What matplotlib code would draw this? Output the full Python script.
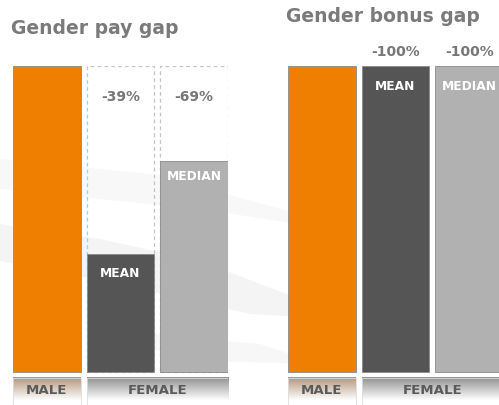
import numpy as np
import matplotlib
matplotlib.use("Agg")
import matplotlib.pyplot as plt
from matplotlib.patches import Polygon

# ---- data ----
pay_categories = ["MALE", "MEAN", "MEDIAN"]
pay_heights = [1.0, 0.385, 0.69]
pay_labels = ["-39%", "-69%"]
bonus_categories = ["MALE", "MEAN", "MEDIAN"]
bonus_heights = [1.0, 1.0, 1.0]
bonus_labels = ["-100%", "-100%"]
group_labels = ["MALE", "FEMALE"]
titles = ["Gender pay gap", "Gender bonus gap"]

ORANGE = "#EF7F00"
DARK = "#555555"
LIGHT = "#B1B1B1"
TITLE_C = "#7A7A7A"
FONT = "DejaVu Sans"

W, H = 499, 406
fig = plt.figure(figsize=(W / 100, H / 100), dpi=100)

# background swoosh (very subtle)
bg = fig.add_axes([0, 0, 1, 1], zorder=-10)
bg.set_xlim(0, W); bg.set_ylim(H, 0); bg.axis("off")
swooshes = [
    ([(0, 225), (100, 240), (200, 262), (300, 300), (330, 320), (250, 315), (120, 285), (0, 262)], "#eeeeee", 0.6),
    ([(0, 160), (150, 175), (300, 215), (330, 230), (200, 210), (0, 190)], "#f4f4f4", 0.6),
    ([(150, 335), (260, 345), (320, 365), (200, 362), (150, 350)], "#f3f3f3", 0.6),
]
for pts, c, a in swooshes:
    bg.add_patch(Polygon(pts, closed=True, facecolor=c, edgecolor="none", alpha=a))

bar_bottom_px, bar_top_px = 373, 67
unit = bar_bottom_px - bar_top_px
ax_h = (H - bar_top_px) / H
ymin = -(H - bar_bottom_px) / unit

def gradient(ax, x0, x1, y0, y1, top_color):
    n = 64
    tc = np.array(matplotlib.colors.to_rgb(top_color))
    t = np.clip(np.linspace(0, 1.2, n), 0, 1)[:, None]
    img = tc[None, :] * (1 - t) + np.array([1, 1, 1])[None, :] * t
    img = np.clip(img, 0, 1)[:, None, :]
    ax.imshow(img, extent=(x0, x1, y1, y0), origin="upper", aspect="auto", zorder=2)
    ax.plot([x0, x0, x1, x1], [y1, y0, y0, y1], color="#dddddd", lw=0.6, zorder=3)

def panel(left_px, heights, labels, pct, title, title_xy, pct_y, dashed, lab_off):
    ax = fig.add_axes([left_px / W, 0, 215 / W, ax_h])
    ax.set_xlim(-0.46, 2.46)
    ax.set_ylim(ymin, 1.0)
    ax.axis("off")
    x = np.arange(len(heights))
    colors = [ORANGE, DARK, LIGHT]
    if dashed:
        ax.bar(x[1:], [1.0, 1.0], width=0.92, bottom=0, fill=False,
               edgecolor="#c4c4c4", lw=0.9, ls=(0, (3, 2.5)), zorder=1)
    ax.bar(x, heights, width=0.92, color=colors, edgecolor="#8a8a8a", lw=0.6, zorder=4)
    for xi, h, lab, off in zip(x[1:], heights[1:], labels[1:], lab_off):
        ax.text(xi, h - off, lab, color="white", ha="center", va="center",
                fontsize=8.8, fontweight="bold", family=FONT, zorder=5)
    for xi, p in zip(x[1:], pct):
        ax.text(xi, pct_y, p, color="#777777", ha="center", va="center",
                fontsize=10, fontweight="bold", family=FONT, zorder=5, clip_on=False)
    # group labels
    y0 = -0.0196
    y1 = ymin
    gradient(ax, -0.46, 0.46, y0, y1, "#b3957a")
    gradient(ax, 0.54, 2.46, y0, y1, "#909090")
    ax.text(0, -0.056, group_labels[0], color="#5a5a5a", ha="center", va="center",
            fontsize=9.6, fontweight="bold", family=FONT, zorder=5)
    ax.text(1.5, -0.056, group_labels[1], color="#5a5a5a", ha="center", va="center",
            fontsize=9.6, fontweight="bold", family=FONT, zorder=5)
    fig.text(title_xy[0] / W, 1 - title_xy[1] / H, title, color=TITLE_C,
             fontsize=13.5, fontweight="bold", family=FONT, ha="left", va="center")
    return ax

panel(13, pay_heights, pay_categories, pay_labels, titles[0], (11, 29),
      1 - (97 - 67) / unit, True, [18 / unit, 15 / unit])
panel(288, bonus_heights, bonus_categories, bonus_labels, titles[1], (286, 16),
      1 + (67 - 52) / unit, False, [20 / unit, 20 / unit])

fig.savefig("out.png", dpi=100, facecolor="white")
